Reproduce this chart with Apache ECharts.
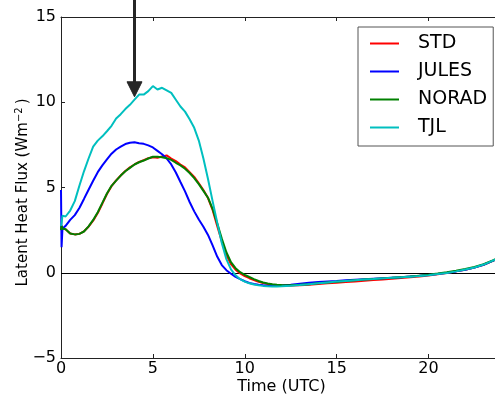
<!DOCTYPE html>
<html>
<head>
<meta charset="utf-8">
<script src="https://cdn.jsdelivr.net/npm/echarts@6/dist/echarts.min.js"></script>
<style>
html,body{margin:0;padding:0;background:#fff;}
#c{width:495px;height:401px;}
</style>
</head>
<body>
<div id="c"></div>
<script>
// Time (UTC), hours
const hours = [0, 0.03, 0.08, 0.25, 0.5, 0.75, 1, 1.25, 1.5, 1.75, 2, 2.25, 2.5, 2.75, 3, 3.25, 3.5, 3.75, 4, 4.25, 4.5, 4.75, 5, 5.25, 5.5, 5.75, 6, 6.25, 6.5, 6.75, 7, 7.25, 7.5, 7.75, 8, 8.25, 8.5, 8.75, 9, 9.25, 9.5, 9.75, 10, 10.25, 10.5, 10.75, 11, 11.25, 11.5, 11.75, 12, 12.5, 13, 13.5, 14, 14.5, 15, 15.5, 16, 16.5, 17, 17.5, 18, 18.5, 19, 19.5, 20, 20.5, 21, 21.5, 22, 22.5, 23, 23.5, 24];

const std = [2.5, 2.75, 2.6, 2.55, 2.3, 2.25, 2.28, 2.43, 2.7, 3.05, 3.5, 4.05, 4.62, 5.08, 5.42, 5.7, 5.97, 6.18, 6.35, 6.5, 6.6, 6.72, 6.78, 6.75, 6.82, 6.88, 6.7, 6.55, 6.35, 6.18, 5.9, 5.62, 5.25, 4.85, 4.38, 3.68, 2.75, 1.85, 1.05, 0.5, 0.18, -0.04, -0.2, -0.32, -0.43, -0.53, -0.6, -0.66, -0.7, -0.73, -0.74, -0.75, -0.73, -0.7, -0.66, -0.62, -0.59, -0.55, -0.51, -0.47, -0.43, -0.39, -0.35, -0.31, -0.27, -0.22, -0.16, -0.09, -0.01, 0.08, 0.18, 0.3, 0.47, 0.7, 0.95];

const jules = [4.85, 1.5, 2.6, 2.75, 3.1, 3.38, 3.8, 4.33, 4.87, 5.4, 5.9, 6.3, 6.65, 6.98, 7.23, 7.4, 7.55, 7.62, 7.65, 7.6, 7.56, 7.47, 7.35, 7.15, 6.95, 6.7, 6.35, 5.88, 5.32, 4.77, 4.15, 3.6, 3.12, 2.7, 2.22, 1.6, 0.95, 0.45, 0.15, -0.06, -0.24, -0.37, -0.5, -0.6, -0.66, -0.71, -0.74, -0.76, -0.77, -0.76, -0.75, -0.7, -0.64, -0.58, -0.54, -0.51, -0.48, -0.44, -0.41, -0.38, -0.35, -0.32, -0.29, -0.26, -0.22, -0.18, -0.13, -0.07, 0.0, 0.08, 0.18, 0.3, 0.47, 0.7, 0.95];

const norad = [2.5, 2.75, 2.6, 2.55, 2.3, 2.25, 2.28, 2.42, 2.72, 3.1, 3.55, 4.1, 4.65, 5.1, 5.4, 5.7, 5.95, 6.15, 6.35, 6.48, 6.58, 6.7, 6.8, 6.8, 6.78, 6.72, 6.62, 6.45, 6.3, 6.1, 5.85, 5.55, 5.2, 4.8, 4.4, 3.75, 2.9, 2.0, 1.2, 0.62, 0.27, 0.03, -0.12, -0.25, -0.37, -0.48, -0.57, -0.63, -0.67, -0.7, -0.72, -0.73, -0.71, -0.67, -0.62, -0.57, -0.53, -0.48, -0.44, -0.4, -0.36, -0.33, -0.3, -0.26, -0.22, -0.17, -0.12, -0.05, 0.03, 0.12, 0.22, 0.34, 0.5, 0.72, 0.97];

const tjl = [2.75, 2.9, 3.35, 3.3, 3.65, 4.2, 5.1, 5.95, 6.7, 7.4, 7.75, 8.0, 8.3, 8.62, 9.05, 9.3, 9.6, 9.85, 10.15, 10.45, 10.45, 10.65, 10.95, 10.75, 10.85, 10.7, 10.55, 10.15, 9.75, 9.45, 9.0, 8.5, 7.75, 6.7, 5.5, 4.2, 2.95, 1.75, 0.8, 0.2, -0.15, -0.38, -0.52, -0.62, -0.69, -0.74, -0.77, -0.79, -0.8, -0.8, -0.79, -0.76, -0.72, -0.67, -0.62, -0.57, -0.52, -0.48, -0.44, -0.4, -0.37, -0.33, -0.3, -0.27, -0.23, -0.19, -0.14, -0.08, -0.01, 0.08, 0.19, 0.31, 0.48, 0.71, 0.96];

const seriesNames = ['STD', 'JULES', 'NORAD', 'TJL'];
const seriesColors = ['#ff0000', '#0000ff', '#008000', '#00bfbf'];
const seriesValues = [std, jules, norad, tjl];

const xTicks = [0, 5, 10, 15, 20];
const yTicks = [-5, 0, 5, 10, 15];
// annotation arrow: tip at (hour, flux)
const arrowTip = [4.0, 10.32];
const arrowTail = [4.0, 17.5];

const FONT = '"DejaVu Sans", sans-serif';
const chart = echarts.init(document.getElementById('c'), null, {renderer: 'canvas'});

function pairs(vals) { return hours.map((h, i) => [h, vals[i]]); }
function fmt(v) { return v < 0 ? '\u2212' + Math.abs(v) : String(v); }

const series = seriesNames.map((name, i) => {
  const s = {
    name: name,
    type: 'line',
    data: pairs(seriesValues[i]),
    showSymbol: false,
    symbol: 'none',
    smooth: false,
    color: seriesColors[i],
    lineStyle: {width: 2, color: seriesColors[i]},
    z: 3 + i
  };
  if (i === 0) {
    s.markLine = {
      silent: true, symbol: ['none', 'none'], label: {show: false},
      lineStyle: {color: '#000', width: 1, type: 'solid'},
      data: [{yAxis: 0}], z: 2
    };
  }
  return s;
});

const axisCommon = {
  type: 'value',
  axisLine: {show: true, onZero: false, lineStyle: {color: '#222', width: 1}},
  axisTick: {show: true, inside: true, length: 4, lineStyle: {color: '#222'}},
  splitLine: {show: false}
};

chart.setOption({
  animation: false,
  backgroundColor: '#fff',
  grid: {left: 61, top: 17, bottom: 43, right: -7, containLabel: false, outerBoundsMode: 'none'},
  legend: {
    data: seriesNames,
    orient: 'vertical',
    left: 358, top: 27,
    padding: [7, 6, 9, 12],
    backgroundColor: '#fff',
    borderColor: '#555', borderWidth: 1, borderRadius: 0,
    icon: 'rect', itemWidth: 29, itemHeight: 2,
    itemGap: 9,
    textStyle: {fontFamily: FONT, fontSize: 19, color: '#000', lineHeight: 19, padding: [0, 0, 0, 14]}
  },
  xAxis: [
    Object.assign({}, axisCommon, {
      min: 0, max: 24, interval: 5, position: 'bottom',
      name: 'Time (UTC)', nameLocation: 'middle', nameGap: 21, nameMoveOverlap: false,
      nameTextStyle: {fontFamily: FONT, fontSize: 16, color: '#000'},
      axisLabel: {fontFamily: FONT, fontSize: 16, color: '#000', margin: 3, showMaxLabel: false,
        formatter: v => (xTicks.indexOf(v) >= 0 ? fmt(v) : '')}
    }),
    Object.assign({}, axisCommon, {
      min: 0, max: 24, interval: 5, position: 'top',
      axisLabel: {show: false}
    })
  ],
  yAxis: [
    Object.assign({}, axisCommon, {
      min: -5, max: 15, interval: 5, position: 'left',
      name: 'Latent Heat Flux (Wm{sup|\u22122}\u2009)', nameLocation: 'middle', nameGap: 29, nameMoveOverlap: false,
      nameTextStyle: {fontFamily: FONT, fontSize: 15, color: '#000', padding: [0, 10, 0, 0],
        rich: {sup: {fontFamily: FONT, fontSize: 10, color: '#000', padding: [0, 0, 8, 0]}}},
      axisLabel: {fontFamily: FONT, fontSize: 16, color: '#000', margin: 5,
        formatter: v => (yTicks.indexOf(v) >= 0 ? fmt(v) : '')}
    })
  ],
  series: series
});

// Arrow annotation positioned through the chart's own scales
const tip = chart.convertToPixel({xAxisIndex: 0, yAxisIndex: 0}, arrowTip);
const tail = chart.convertToPixel({xAxisIndex: 0, yAxisIndex: 0}, arrowTail);
const headH = 15, headW = 15;
chart.setOption({
  graphic: [
    {type: 'line', z: 100, shape: {x1: tail[0], y1: tail[1], x2: tip[0], y2: tip[1] - headH + 1},
      style: {stroke: '#262626', lineWidth: 3}},
    {type: 'polygon', z: 100, shape: {points: [[tip[0] - headW / 2, tip[1] - headH], [tip[0] + headW / 2, tip[1] - headH], [tip[0], tip[1]]]},
      style: {fill: '#262626', stroke: '#262626', lineWidth: 1}}
  ]
});
</script>
</body>
</html>
